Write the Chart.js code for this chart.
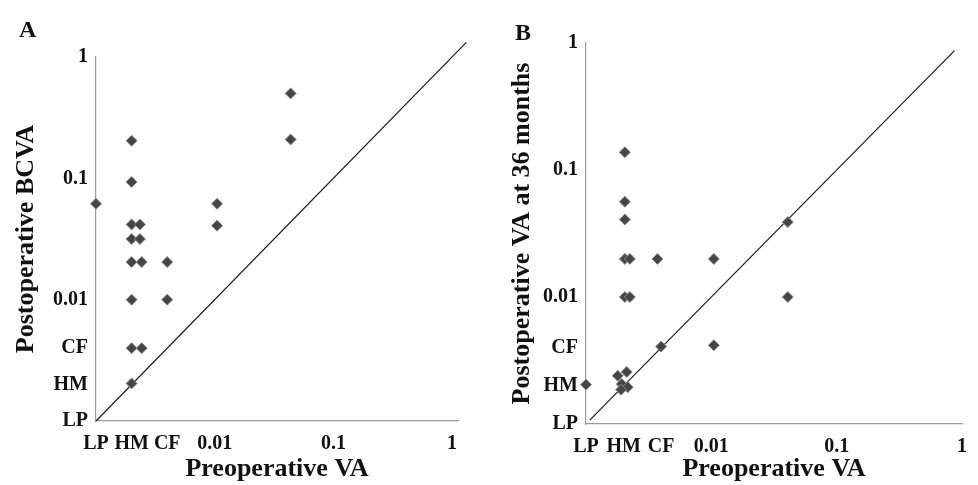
<!DOCTYPE html>
<html>
<head>
<meta charset="utf-8">
<script src="https://cdn.jsdelivr.net/npm/chart.js@4/dist/chart.umd.min.js"></script>
<style>
  body { margin: 0; background: #fff; width: 978px; height: 485px; position: relative; overflow: hidden; font-family: "Liberation Serif", "Times New Roman", serif; }
  .panel { position: absolute; top: 0; height: 485px; }
  .tag { position: absolute; font-weight: bold; font-size: 24px; line-height: 1; color: #111; }
</style>
</head>
<body>
<div class="panel" style="left:0;width:480px"><canvas id="chartA" width="480" height="485"></canvas></div>
<div class="panel" style="left:480px;width:498px"><canvas id="chartB" width="498" height="485"></canvas></div>
<div class="tag" style="left:19px;top:17px">A</div>
<div class="tag" style="left:515px;top:20px">B</div>
<script>
// log10 of visual acuity; LP / HM / CF are placed below 0.01
const tickValues = [-3, -2.7, -2.4, -2, -1, 0];
const tickLabels = ['LP', 'HM', 'CF', '0.01', '0.1', '1'];

// Panel A: preoperative VA vs postoperative BCVA
const preA  = [-3, -2.70, -2.70, -2.70, -2.63, -2.70, -2.63, -2.70, -2.615, -2.70, -2.70, -2.615, -2.70, -2.40, -2.40, -1.98, -1.98, -1.36, -1.36];
const postA = [-1.21, -0.69, -1.03, -1.38, -1.38, -1.50, -1.50, -1.69, -1.69, -2.0, -2.4, -2.4, -2.69, -1.69, -2.0, -1.21, -1.39, -0.30, -0.68];

// Panel B: preoperative VA vs postoperative VA at 36 months
const preB  = [-3, -2.69, -2.69, -2.69, -2.69, -2.65, -2.69, -2.65, -2.43, -2.40, -2.715, -2.675, -2.667, -2.747, -2.72, -1.98, -1.98, -1.39, -1.39];
const postB = [-2.69, -0.86, -1.25, -1.39, -1.70, -1.70, -2.0, -2.0, -1.70, -2.39, -2.685, -2.59, -2.71, -2.62, -2.73, -1.70, -2.38, -1.41, -2.0];

// line of equality
const diagA = [-3, 0.12];
const diagB = [-2.97, -0.06];

const serif = '"Liberation Serif", "Times New Roman", serif';

function makeChart(id, pre, post, diag, cfg) {
  const ctx = document.getElementById(id).getContext('2d');
  return new Chart(ctx, {
    type: 'scatter',
    data: {
      datasets: [{
        data: pre.map((x, i) => ({ x: x, y: post[i] })),
        pointStyle: 'rectRot',
        pointRadius: 5.5,
        pointHoverRadius: 5.5,
        backgroundColor: '#454545',
        borderColor: '#8c8c8c',
        borderWidth: 1,
        clip: false
      }, {
        type: 'line',
        data: diag.map(v => ({ x: v, y: v })),
        borderColor: '#1a1a1a',
        borderWidth: 1.2,
        pointRadius: 0,
        clip: false
      }]
    },
    options: {
      responsive: false,
      animation: false,
      devicePixelRatio: 1,
      layout: {
        padding: { left: 0, right: cfg.right, top: cfg.top, bottom: 0 }
      },
      scales: {
        x: {
          type: 'linear',
          min: -3,
          max: cfg.xMax,
          afterBuildTicks: scale => { scale.ticks = tickValues.map(v => ({ value: v })); },
          afterFit: scale => { scale.height = cfg.xHeight; },
          grid: { display: false, drawTicks: false },
          border: { display: true, color: '#9a9a9a', width: 1.2 },
          ticks: {
            autoSkip: false,
            maxRotation: 0,
            padding: 11,
            color: '#111',
            font: { family: serif, size: 20, weight: 'bold' },
            callback: value => tickLabels[tickValues.indexOf(value)]
          },
          title: {
            display: true,
            text: 'Preoperative VA',
            color: '#111',
            padding: 0,
            font: { family: serif, size: 26, weight: 'bold' }
          }
        },
        y: {
          type: 'linear',
          min: -3,
          max: 0,
          afterBuildTicks: scale => { scale.ticks = tickValues.map(v => ({ value: v })); },
          afterFit: scale => { scale.width = cfg.yWidth; },
          grid: { display: false, drawTicks: false },
          border: { display: true, color: '#9a9a9a', width: 1.2 },
          ticks: {
            autoSkip: false,
            padding: 8,
            color: '#111',
            font: { family: serif, size: 20, weight: 'bold' },
            callback: value => tickLabels[tickValues.indexOf(value)]
          },
          title: {
            display: true,
            text: cfg.yTitle,
            color: '#111',
            padding: cfg.yTitlePad,
            font: { family: serif, size: 26, weight: 'bold' }
          }
        }
      },
      plugins: {
        legend: { display: false },
        tooltip: { enabled: false }
      }
    }
  });
}

makeChart('chartA', preA, postA, diagA, {
  yTitle: 'Postoperative BCVA', yTitlePad: 11,
  yWidth: 96, xHeight: 64, top: 57, right: 22, xMax: 0.05
});

makeChart('chartB', preB, postB, diagB, {
  yTitle: 'Postoperative VA at 36 months', yTitlePad: 27,
  yWidth: 106, xHeight: 61, top: 43, right: 13, xMax: 0
});
</script>
</body>
</html>
